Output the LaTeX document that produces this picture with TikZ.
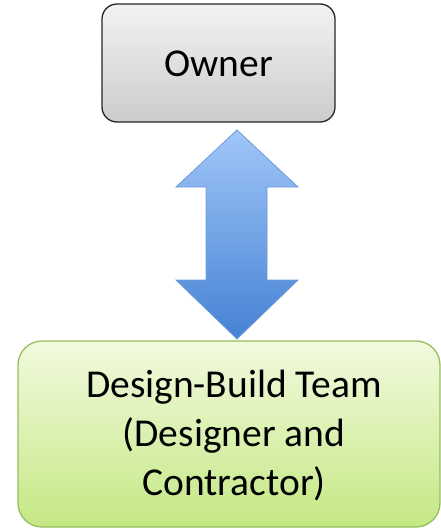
\documentclass[tikz,border=0pt]{standalone}
\usepackage{fontspec}
\setmainfont{Carlito}
\begin{document}
\begin{tikzpicture}[x=1pt,y=-1pt,
  boxtext/.style={font=\fontsize{39.5}{49}\selectfont, align=center, text=black},
  ownerbox/.style={draw=black!85, line width=1.3pt, rounded corners=15pt, top color=gray!10, bottom color=gray!40},
  teambox/.style={draw={rgb,255:red,150;green,190;blue,90}, line width=1.3pt, rounded corners=24pt, top color={rgb,255:red,242;green,250;blue,222}, bottom color={rgb,255:red,196;green,232;blue,132}},
  bigarrow/.style={draw={rgb,255:red,110;green,155;blue,215}, line width=0.8pt, top color={rgb,255:red,160;green,198;blue,248}, bottom color={rgb,255:red,70;green,130;blue,212}}]
\useasboundingbox (0,0) rectangle (441,530);
\path[ownerbox] (102,4) rectangle (335,122);
\node[boxtext] (owner) at (218.5,64) {Owner};
\path[teambox] (18,341) rectangle (440,527);
\node[boxtext] (team) at (234,436) {Design-Build Team\\(Designer and\\Contractor)};
\path[bigarrow] (237,130) -- (298,187) -- (267,187) -- (267,280) -- (298,280) -- (237,339) -- (176,280) -- (206,280) -- (206,187) -- (176,187) -- cycle;
\end{tikzpicture}
\end{document}
